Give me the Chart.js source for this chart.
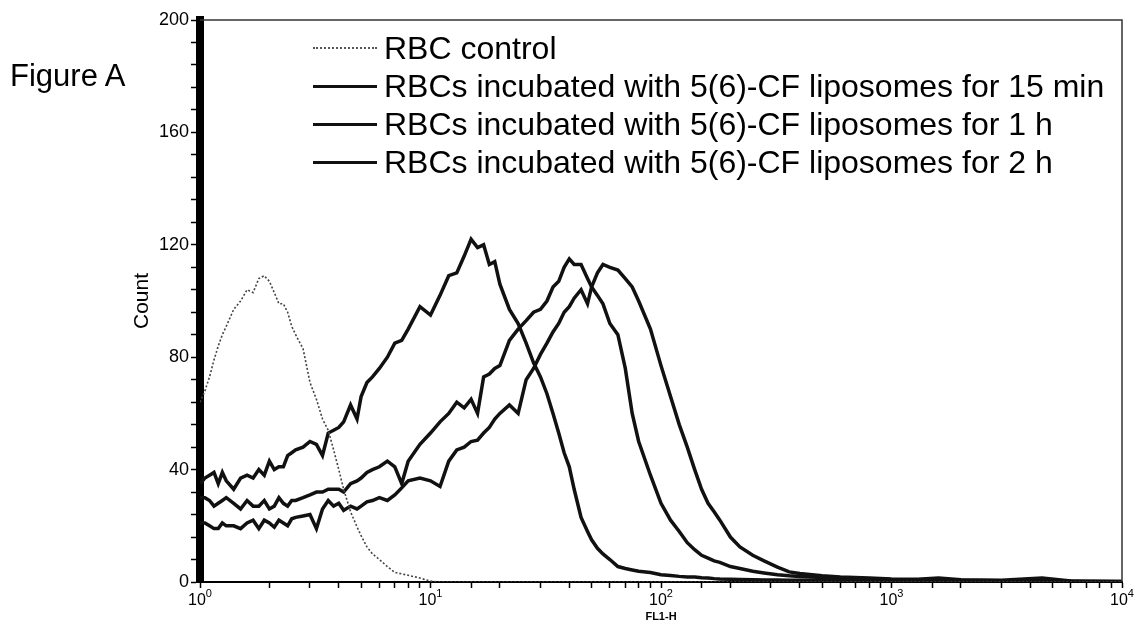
<!DOCTYPE html>
<html>
<head>
<meta charset="utf-8">
<title>Figure A - FL1-H histogram</title>
<script src="https://cdn.jsdelivr.net/npm/chart.js@4.4.1/dist/chart.umd.min.js"></script>
<style>
    html, body { margin: 0; padding: 0; background: #fff; }
    #wrap { position: relative; width: 1136px; height: 628px; font-family: Arial, "Liberation Sans", sans-serif; color: #000; }
    #myChart { position: absolute; left: 0; top: 0; }
    .fig-title { position: absolute; left: 10px; top: 60px; font-size: 31px; line-height: 32px; }
    .legend { position: absolute; left: 313px; top: 29px; }
    .legend-row { display: flex; align-items: center; height: 38px; font-size: 32px; white-space: nowrap; }
    .legend-line { display: inline-block; width: 64px; margin-right: 7px; border-top: 3px solid #111; }
    .legend-line.dotted { border-top: 2px dotted #555; }
</style>
</head>
<body>
<div id="wrap">
    <canvas id="myChart" width="1136" height="628"></canvas>
    <div class="fig-title">Figure A</div>
    <div class="legend" id="legend"></div>
</div>
<script>
// FL1-H positions (log axis) shared by all histograms
const fl1Channels = [
    1, 1.05, 1.1, 1.15, 1.2, 1.25, 1.3, 1.4, 1.5, 1.6,
    1.7, 1.8, 1.9, 2, 2.1, 2.2, 2.3, 2.4, 2.5, 2.6,
    2.8, 3, 3.2, 3.4, 3.6, 3.8, 4, 4.2, 4.5, 4.8,
    5, 5.3, 5.6, 6, 6.5, 7, 7.5, 8, 9, 10,
    11, 12, 13, 14, 15, 16, 17, 18, 19, 20,
    22, 24, 26, 28, 30, 32, 34, 36, 38, 40,
    42, 45, 48, 50, 53, 56, 60, 65, 70, 75,
    80, 90, 100, 110, 120, 130, 140, 150, 160, 170,
    180, 200, 220, 250, 280, 320, 360, 400, 500, 600,
    800, 1000, 1300, 1600, 2000, 3000, 4500, 6000, 8000, 10000
];

const countControl = [
    64, 68, 73, 79, 84, 88, 91, 97, 100, 104,
    103, 108, 109, 107, 103, 99, 99, 96, 91, 88,
    83, 71, 65, 58, 54, 47, 40, 33, 25, 19.6,
    16.5, 12.5, 10, 8, 5.5, 3.4, 2.9, 2.4, 1.4, 0.3,
    0, 0, 0, 0, 0, 0, 0, 0, 0, 0,
    0, 0, 0, 0, 0, 0, 0, 0, 0, 0,
    0, 0, 0, 0, 0, 0, 0, 0, 0, 0,
    0, 0, 0, 0, 0, 0, 0, 0, 0, 0,
    0, 0, 0, 0, 0, 0, 0, 0, 0, 0,
    0, 0, 0, 0, 0, 0, 0, 0, 0, 0
];

const count15min = [
    35, 37, 38, 39, 35, 39, 36, 33, 37, 38,
    37, 40, 38, 43, 40, 41, 41, 45, 46, 47,
    48, 50, 49, 45, 53, 54, 55, 57, 63, 58,
    66, 71, 73, 76, 80, 85, 86, 90, 98, 95,
    102, 109, 110, 116, 122, 119, 120, 113, 114, 106,
    97, 92, 85, 78, 73, 67, 60, 53, 46, 41,
    33, 23, 18, 15, 12, 10, 8, 5.5, 4.8, 4.3,
    3.8, 3.4, 2.6, 2.3, 2, 1.8, 1.8, 1.5, 1.4, 1.2,
    1.1, 1, 0.9, 0.8, 0.7, 0.7, 0.6, 0.6, 0.5, 0.5,
    0.4, 0.4, 0.3, 0.3, 0.3, 0.2, 0.2, 0.2, 0.1, 0.1
];

const count1h = [
    30, 30, 29, 27, 28, 29, 30, 28, 26, 29,
    27, 27, 29, 26, 27, 30, 28, 27, 29, 29,
    30, 31, 32, 32, 33, 33, 33, 32, 35, 36,
    37, 39, 40, 41, 43, 41, 35, 43, 49, 53,
    57, 60, 64, 62, 65, 60, 73, 74, 76, 77,
    86, 90, 93, 96, 97, 100, 105, 107, 112, 115,
    113, 113, 108, 105, 102, 99, 92, 88, 76, 60,
    50, 38, 28, 22, 18, 14, 11.5, 9.5, 8.5, 7.5,
    7, 5.5, 4.8, 3.8, 3.2, 2.6, 2.2, 2, 1.6, 1.3,
    1, 0.8, 0.7, 0.6, 0.5, 0.4, 0.3, 0.3, 0.2, 0.2
];

const count2h = [
    21, 21, 20, 19, 19, 21, 20, 20, 19, 21,
    22, 19, 22, 21, 19.5, 22, 21, 20, 22.5, 23,
    23.5, 24, 19, 26, 29, 27, 28, 25.5, 27, 26,
    27, 28.5, 29, 30, 29, 31, 33.5, 36, 37, 36,
    34, 43, 47, 48, 50, 50.5, 53, 55, 58, 60,
    63, 60, 72, 76, 81, 85, 89, 92, 96, 98,
    101, 104, 99, 105, 110, 113, 112, 111, 108, 105,
    100, 90, 77, 66, 56, 48, 40, 33, 28, 25,
    22, 16, 12.5, 9.5, 7.5, 5.3, 3.6, 3, 2.2, 1.8,
    1.4, 1.1, 1, 1.4, 0.8, 0.6, 1.4, 0.4, 0.3, 0.2
];

const seriesLabels = [
    'RBC control',
    'RBCs incubated with 5(6)-CF liposomes for 15 min',
    'RBCs incubated with 5(6)-CF liposomes for 1 h',
    'RBCs incubated with 5(6)-CF liposomes for 2 h'
];

const xTickValues = [1, 10, 100, 1000, 10000];
const xTickExponents = ['0', '1', '2', '3', '4'];
const yTickLabels = [0, 40, 80, 120, 160, 200];

const ctx = document.getElementById('myChart').getContext('2d');

function toPoints(counts) {
    return fl1Channels.map((x, i) => ({ x: x, y: counts[i] }));
}

// thin frame on the top and right side of the plot
const frameBox = {
    id: 'frameBox',
    afterDraw(chart) {
        const { ctx, chartArea } = chart;
        ctx.save();
        ctx.strokeStyle = '#333';
        ctx.lineWidth = 1.5;
        ctx.beginPath();
        ctx.moveTo(chartArea.left, chartArea.top);
        ctx.lineTo(chartArea.right, chartArea.top);
        ctx.lineTo(chartArea.right, chartArea.bottom);
        ctx.stroke();
        ctx.restore();
    }
};

// "10" with a raised exponent under each decade tick
const decadeLabels = {
    id: 'decadeLabels',
    afterDraw(chart) {
        const xScale = chart.scales.x;
        const c = chart.ctx;
        c.save();
        c.fillStyle = '#000';
        c.textAlign = 'left';
        c.textBaseline = 'alphabetic';
        xTickValues.forEach((v, i) => {
            const px = xScale.getPixelForValue(v);
            c.font = '16px Arial';
            const baseW = c.measureText('10').width;
            c.font = '11px Arial';
            const expW = c.measureText(xTickExponents[i]).width;
            const start = Math.min(px - (baseW + expW) / 2, chart.width - baseW - expW - 1);
            c.font = '16px Arial';
            c.fillText('10', start, xScale.top + 23);
            c.font = '11px Arial';
            c.fillText(xTickExponents[i], start + baseW, xScale.top + 15);
        });
        c.restore();
    }
};

const allCounts = [countControl, count15min, count1h, count2h];

new Chart(ctx, {
    type: 'line',
    data: {
        datasets: allCounts.map((counts, i) => ({
            label: seriesLabels[i],
            data: toPoints(counts),
            borderColor: i === 0 ? '#444' : '#111',
            borderWidth: i === 0 ? 1.6 : 3.5,
            borderDash: i === 0 ? [2, 2] : [],
            pointRadius: 0,
            tension: 0,
            fill: false
        }))
    },
    options: {
        responsive: false,
        animation: false,
        layout: { padding: { left: 0, top: 20, right: 14, bottom: 0 } },
        plugins: {
            legend: { display: false },
            tooltip: { enabled: false }
        },
        scales: {
            x: {
                type: 'logarithmic',
                min: 1,
                max: 10000,
                afterFit: scale => { scale.height = 46; },
                grid: {
                    drawOnChartArea: false,
                    drawTicks: true,
                    tickLength: 6,
                    tickColor: '#000',
                    tickWidth: 1.5
                },
                border: { display: true, color: '#000', width: 2 },
                ticks: {
                    autoSkip: false,
                    maxRotation: 0,
                    padding: 2,
                    color: '#000',
                    font: { family: 'Arial', size: 15 },
                    callback: () => ''
                },
                title: {
                    display: true,
                    text: 'FL1-H',
                    color: '#000',
                    font: { family: 'Arial', size: 11, weight: 'bold' },
                    padding: { top: 0, bottom: 4 }
                }
            },
            y: {
                min: 0,
                max: 200,
                afterFit: scale => { scale.width = 200; },
                grid: {
                    drawOnChartArea: false,
                    drawTicks: true,
                    tickLength: 9,
                    tickColor: '#000',
                    tickWidth: 1.5
                },
                border: { display: true, color: '#000', width: 8 },
                ticks: {
                    stepSize: 8,
                    autoSkip: false,
                    padding: 2,
                    color: '#000',
                    font: { family: 'Arial', size: 18 },
                    callback: value => yTickLabels.includes(value) ? String(value) : ''
                },
                title: {
                    display: true,
                    text: 'Count',
                    color: '#000',
                    font: { family: 'Arial', size: 21 },
                    padding: { top: 130, bottom: 0 }
                }
            }
        }
    },
    plugins: [frameBox, decadeLabels]
});

// legend drawn as html over the plot area
const legendBox = document.getElementById('legend');
seriesLabels.forEach((label, i) => {
    const row = document.createElement('div');
    row.className = 'legend-row';
    const sample = document.createElement('span');
    sample.className = i === 0 ? 'legend-line dotted' : 'legend-line';
    const text = document.createElement('span');
    text.textContent = label;
    row.appendChild(sample);
    row.appendChild(text);
    legendBox.appendChild(row);
});
</script>
</body>
</html>
